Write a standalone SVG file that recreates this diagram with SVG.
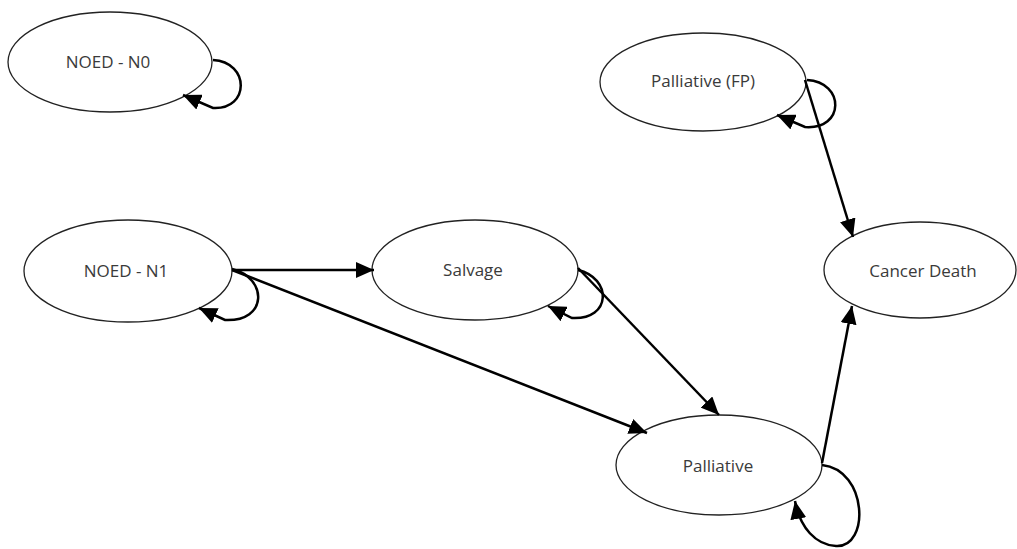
<svg xmlns="http://www.w3.org/2000/svg" width="1017" height="549" viewBox="0 0 1017 549">
<style>
.node ellipse{fill:#fff;stroke:#222;stroke-width:1.3}
.node text{font-family:"Open Sans","Liberation Sans",sans-serif;font-size:17px;fill:#3a3a3a;text-anchor:middle;dominant-baseline:central}
.edge{fill:none;stroke:#000;stroke-width:2.5;marker-end:url(#ah)}
</style>
<defs>
<marker id="ah" markerUnits="userSpaceOnUse" markerWidth="20" markerHeight="16" refX="18" refY="8" orient="auto">
<path d="M0,0 L18,8 L0,16 z" fill="#000"/>
</marker>
</defs>
<rect width="1017" height="549" fill="#fff"/>
<g id="n0" class="node"><ellipse cx="110" cy="62" rx="102" ry="50"/><text x="108" y="61">NOED - N0</text></g>
<g id="fp" class="node"><ellipse cx="703" cy="82" rx="103" ry="49"/><text x="703" y="80">Palliative (FP)</text></g>
<g id="n1" class="node"><ellipse cx="128" cy="271" rx="104" ry="51"/><text x="126" y="270">NOED - N1</text></g>
<g id="salv" class="node"><ellipse cx="475" cy="270" rx="103" ry="50"/><text x="473" y="269">Salvage</text></g>
<g id="pall" class="node"><ellipse cx="719" cy="465" rx="103" ry="50"/><text x="718" y="465">Palliative</text></g>
<g id="cd" class="node"><ellipse cx="920" cy="270" rx="96" ry="48"/><text x="923" y="270">Cancer Death</text></g>
<g id="edges">
<path class="edge" d="M213,60 C250,62 250,110 213,108 L183,95"/>
<path class="edge" d="M807,80 C845,82 845,130 805,127 L777,115"/>
<path class="edge" d="M232,269 C268,278 268,322 225,320 L199,308"/>
<path class="edge" d="M578,270 C612,278 612,320 572,318 L548,306"/>
<path class="edge" d="M822,465 C868,470 870,548 836,546 C816,545 800,528 795,501"/>
<path class="edge" d="M232,270 L374,270"/>
<path class="edge" d="M232,270 L647,433"/>
<path class="edge" d="M578,268 L719,415"/>
<path class="edge" d="M805,80 L853,237"/>
<path class="edge" d="M822,463 L852,306"/>
</g>
</svg>
